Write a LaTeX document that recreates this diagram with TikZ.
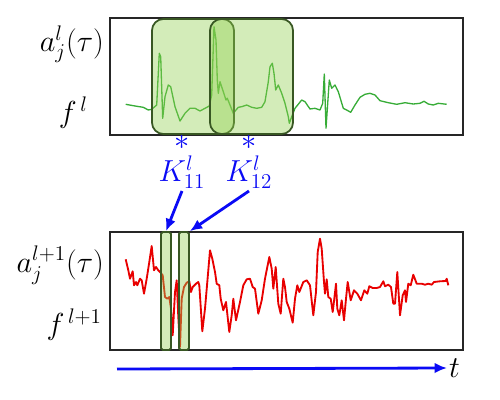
\documentclass[tikz,border=0pt]{standalone}
\usepackage{amssymb}
\usepackage{amsmath}
\usepackage{tikz}
\usetikzlibrary{%
	calc,%
	arrows.meta,%
	positioning
}
\definecolor{wingreen}{RGB}{146,208,80}
\definecolor{winedge}{RGB}{56,87,35}
\definecolor{sigred}{RGB}{232,0,0}
\definecolor{siggreen}{RGB}{55,172,55}
\definecolor{labblue}{RGB}{10,10,245}

\begin{document}
\begin{tikzpicture}[x=0.02cm,y=-0.02cm,
		panel/.style={draw=black!85,line width=1pt},
		window/.style={draw=winedge,line width=1pt,fill=wingreen,fill opacity=0.4},
		lab/.style={font=\fontsize{16.5}{19}\selectfont,inner sep=1pt},
		klab/.style={lab,text=labblue},
		link/.style={labblue,line width=1.6pt,-{Latex[length=7pt,width=6pt]}}]
		\useasboundingbox (0,0) rectangle (500,399);
		
		%Panels
		\draw[panel] (110,18) rectangle (463,135);
		\draw[panel] (110,232) rectangle (463,350);
		
		% Panel labels
		\node[lab,anchor=east] (al) at (106,44) {$a_j^{l}(\tau)$};
		\node[lab,anchor=east] (fl) at (90,113) {$f^{\,l}$};
		\node[lab,anchor=east] (al1) at (106,265) {$a_j^{l+1}(\tau)$};
		\node[lab,anchor=east] (fl1) at (104,325) {$f^{\,l+1}$};
		
		% Signal of layer l
		\draw[siggreen,line width=0.75pt,line join=round] plot coordinates {
			(125.7,104.3) (135,106) (143.3,107.3) (148.3,110) (151.7,109.3) (156.7,105)
			(159.3,53.3) (160.7,56.7) (162.7,118.3) (165,96.7) (168.3,85) (170.7,86.7)
			(175,106.7) (180,121) (185,113.3) (190,108.3) (195,108.3) (200,111) (205,108.3)
			(209.3,106) (211.7,95) (214,26.7) (216,40) (217.3,80) (218.3,93.3) (220,81.7)
			(223.3,91.7) (226,100) (227.3,98.3) (230,105) (233.3,113.3) (236,110) (238.3,107.3)
			(241.7,106.7) (246.7,105) (251.7,107.3) (256.7,108.3) (261.7,107.3) (265,101.7)
			(268.3,81.7) (270,66.7) (272.3,63.3) (274,73.3) (275.7,90) (278.3,85) (281.7,93.3)
			(285,103.3) (288.3,116.7) (289.3,123.3) (291.7,116.7) (295,108.3) (301.7,100)
			(305,101.7) (310,109) (315,108.3) (320,110) (322.7,103.3) (324.3,74) (326,128.3)
			(329.3,80) (331.7,88.3) (335,85) (338.3,91.7) (343.3,108.3) (346.7,110) (350.7,112.3)
			(355,105) (360,97.3) (365,94.3) (370,93.3) (375,95) (380,100.7) (388.3,102.7)
			(396.7,104.3) (405,102.7) (413.3,104) (420,103.3) (424,101.3) (428.3,104)
			(433.3,105) (438.3,103.3) (446.7,104.3)};
		
		% Signal of layer l+1
		\draw[sigred,line width=1.05pt,line join=round] plot coordinates {
			(125.7,259.3) (128.3,270.3) (130,278.7) (132.7,271.3) (134,285.3) (136,282)
			(137.3,285.3) (140,278.7) (141.7,280.3) (144,293.7) (146.7,278.7) (149.3,262)
			(151.7,246) (154,270.3) (156,267) (158.3,270.3) (160,272) (162.7,275.3) (165,297)
			(167.3,298.7) (169.3,297) (171,308.7) (172.7,335.3) (175,292) (176.7,280.3)
			(178.3,317) (180,347) (181.7,298.7) (184,287) (186.7,282.7) (189.3,281.3) (191,292)
			(192.7,287) (196,283.7) (198.3,282) (199.3,285.3) (202.3,331.3) (205,308.7)
			(207.3,282) (210,250.3) (212.3,258.7) (215,272) (216.7,283.7) (219.3,285.3)
			(220.7,298.7) (223.3,310.3) (226,302) (229.3,332) (231.7,315.3) (233.3,298.7)
			(236,320.3) (240,302) (243.3,285.3) (246.7,279.3) (250,278.7) (252.7,287)
			(255,288.7) (258.3,313.7) (261.7,300.3) (265,278.7) (269.3,257) (271.7,268.7)
			(273.3,288.7) (275.7,267) (278.3,303.7) (280.7,313.7) (283.3,278.7) (285,287)
			(286.7,302) (289.3,308.7) (292.7,322.7) (295,298.7) (297.3,285.3) (299.3,292)
			(303.3,282) (306.7,280.3) (310,285.3) (313.3,315.3) (316,292) (317.7,252)
			(320,238.7) (321.7,248.7) (324,282) (325,293.7) (326.7,279.3) (328.3,297)
			(330.7,298.7) (332.7,312) (334.3,298.7) (336,283.7) (337.3,308.7) (339.3,315.3)
			(341.7,300.3) (344,320.3) (346,298.7) (347.7,282) (350.7,300.3) (354,290.3)
			(357.3,293.7) (361,300.3) (364.3,290.3) (367.3,293.7) (369.3,286.3) (372.7,288)
			(376.7,288) (380,287) (383.3,281.3) (385,286.3) (388.3,284.7) (391,287)
			(393.3,303.7) (395,303.7) (397.3,272) (400,315.3) (402.7,295.3) (405,290.3)
			(406,302) (408.3,283.7) (410.7,285.3) (413.3,274.7) (416.7,283.7) (421.7,283.7)
			(425,284.7) (428.3,283.7) (431.7,284.7) (434,282) (440,281.3) (445.7,281)
			(446.7,278.7) (448.3,285.3)};
		
		% Windows on layer l
		\draw[window,rounded corners=6.5pt] (152,19) rectangle (234,134);
		\draw[window,rounded corners=6.5pt] (210,19) rectangle (293,134);
		
		% Windows on layer l+1
		\foreach \name/\xpos in {w1/166,w2/184}
		\node[window,rounded corners=1pt,minimum width=0.2cm,minimum height=2.36cm,
			inner sep=0pt] (\name) at (\xpos,291) {};
		
		% Kernel labels
		\node[klab,anchor=south] (k11) at (182,191) {$\overset{\textstyle *}{K^{l}_{11}}$};
		\node[klab,anchor=south] (k12) at (249,191) {$\overset{\textstyle *}{K^{l}_{12}}$};
		
		% Links
		\draw[link] (k11.south) -- (w1.north);
		\draw[link] (k12.south) -- (w2.north east);
		
		% Time axis
		\coordinate (t0) at (117,369);
		\node[lab,anchor=west] (t) at (447,368) {$t$};
		\draw[link] (t0) -- (t.west);
	\end{tikzpicture}
\end{document}
